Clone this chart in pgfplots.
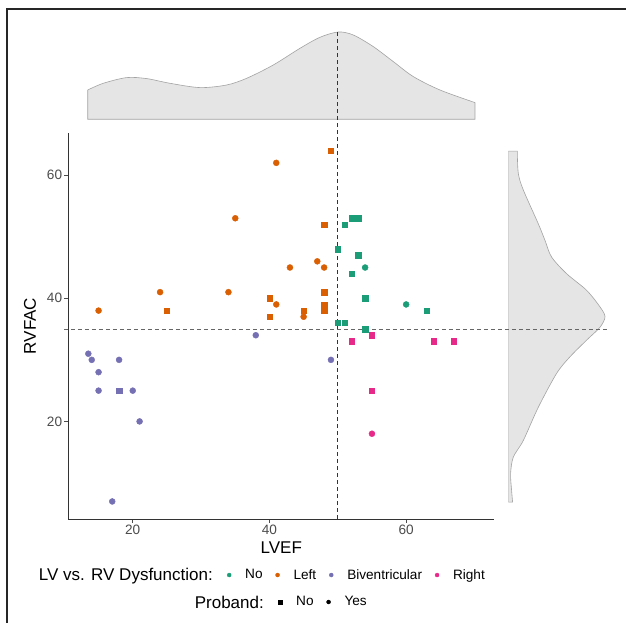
\documentclass[border=0pt]{standalone}
\usepackage{pgfplots}
\pgfplotsset{compat=1.18}
\usepackage{fontspec}
\setmainfont{Liberation Sans}
\definecolor{cNo}{HTML}{1B9E77}
\definecolor{cLeft}{HTML}{D95F02}
\definecolor{cBiv}{HTML}{7570B3}
\definecolor{cRight}{HTML}{E7298A}
\definecolor{densfill}{HTML}{E5E5E5}
\definecolor{densline}{HTML}{A3A3A3}
\newcommand{\basefont}{\fontsize{17bp}{20bp}\selectfont}
\newcommand{\smallfont}{\fontsize{13.6bp}{16bp}\selectfont}
\pgfplotsset{
  sq/.style={only marks, mark=square*, mark size=2.7bp, color=#1},
  ci/.style={only marks, mark=*, mark size=3bp, color=#1},
  legbox/.style={
    hide axis, scale only axis, at={(0bp,0bp)}, anchor=south west,
    width=626bp, height=623bp, xmin=0, xmax=1, ymin=0, ymax=1,
    legend image code/.code={\draw[##1, only marks] plot coordinates {(0bp,0bp)};},
    legend style={draw=none, fill=none, inner sep=0bp, anchor=west,
      font=\smallfont, nodes={inner sep=0bp},
      /tikz/every odd column/.append style={column sep=14bp},
      /tikz/every even column/.append style={column sep=13bp}},
  },
}
\begin{document}
\begin{tikzpicture}
\path[use as bounding box] (0bp,0bp) rectangle (626bp,623bp);
\draw[line width=2bp, black!85] (7bp,0bp) -- (7bp,614bp) -- (626bp,614bp);

% top marginal density of LVEF
\begin{axis}[
  hide axis, scale only axis,
  at={(68.3bp,503.7bp)}, anchor=south west,
  width=426bp, height=90bp,
  xmin=10.57, xmax=72.9, ymin=0, ymax=90,
]
\addplot[smooth, fill=densfill, draw=densline, line width=0.6bp] coordinates {
  (13.41,29.3) (15.69,36.0) (19.11,41.7) (22.04,40.7) (25.45,36.0)
  (29.84,31.7) (33.74,34.3) (36.67,41.0) (40.56,54.3) (44.47,71.0)
  (47.39,82.0) (50.07,87.3) (52.27,84.3) (55.19,72.7) (58.12,57.7)
  (61.05,42.7) (64.95,29.3) (70.07,16.7)
} -- (axis cs:70.07,0) -- (axis cs:13.41,0) -- cycle;
\end{axis}

% right marginal density of RVFAC
\begin{axis}[
  hide axis, scale only axis,
  at={(508.3bp,104bp)}, anchor=south west,
  width=100bp, height=386bp,
  xmin=0, xmax=100, ymin=4.15, ymax=66.85,
]
\addplot[smooth, fill=densfill, draw=densline, line width=0.6bp] coordinates {
  (9,63.9) (10,60.3) (15,57.6) (30,52.1) (36.7,49.4) (43.3,46.7)
  (58.3,44.0) (78.3,41.3) (91.7,38.6) (96.7,37.0) (91.7,35.3)
  (78.3,33.2) (61.7,30.5) (48.3,27.8) (30,22.3) (15,16.9) (5,14.2)
  (2.3,11.5) (3.3,8.8) (4.3,6.9)
} -- (axis cs:0,6.9) -- (axis cs:0,63.9) -- cycle;
\end{axis}

% main scatter
\begin{axis}[
  at={(68.3bp,104bp)}, anchor=south west,
  scale only axis, width=426bp, height=386bp,
  xmin=10.57, xmax=72.9, ymin=4.15, ymax=66.85,
  axis x line*=bottom, axis y line*=left,
  axis line style={black!80, line width=0.8bp},
  xtick={20,40,60}, ytick={20,40,60},
  tick align=outside, major tick length=4bp,
  tick style={black!70, line width=0.8bp},
  tick label style={font=\smallfont, text=black!70, inner sep=2bp},
  /pgf/number format/assume math mode=true,
  xlabel={LVEF}, ylabel={RVFAC},
  label style={font=\basefont},
  xlabel style={at={(axis description cs:0.5,-0.0751)}, anchor=center},
  ylabel style={at={(axis description cs:-0.0899,0.5)}, anchor=center},
  clip=false,
]
% No dysfunction
\addplot[sq=cNo] coordinates {
  (50,48) (51,52) (52,53) (53,53) (53,47) (52,44) (54,40) (63,38)
  (50,36) (51,36) (54,35)
};
\addplot[ci=cNo] coordinates {(54,45) (60,39)};
% Left
\addplot[ci=cLeft] coordinates {
  (41,62) (35,53) (15,38) (24,41) (34,41) (41,39) (43,45) (47,46)
  (48,45) (45,37)
};
\addplot[sq=cLeft] coordinates {
  (49,64) (25,38) (40,40) (40,37) (48,52) (48,41) (48,39) (48,38) (45,38)
};
% Biventricular
\addplot[ci=cBiv] coordinates {
  (13.5,31) (14,30) (15,28) (15,25) (18,30) (20,25) (21,20) (17,7)
  (38,34) (49,30)
};
\addplot[sq=cBiv] coordinates {(18,25)};
% Right
\addplot[sq=cRight] coordinates {(55,34) (52,33) (64,33) (67,33) (55,25)};
\addplot[ci=cRight] coordinates {(55,18)};

\draw[black!80, line width=0.8bp, dash pattern=on 4bp off 3bp]
  (axis cs:50,4.15) -- (axis cs:50,83.58);
\draw[black!60, line width=0.8bp, dash pattern=on 4bp off 3bp]
  (axis cs:9.94,35) -- (axis cs:89.7,35);
\end{axis}

% legends
\node[font=\basefont, anchor=base east, inner sep=0bp] at (213bp,42bp) {LV vs. RV Dysfunction:};
\node[font=\basefont, anchor=base east, inner sep=0bp] at (264bp,15bp) {Proband:};
\begin{axis}[legbox, legend columns=4,
  legend style={at={(axis description cs:0.3626,0.0770)}}]
\addlegendimage{mark=*, mark size=2bp, cNo}\addlegendentry{No}
\addlegendimage{mark=*, mark size=2bp, cLeft}\addlegendentry{Left}
\addlegendimage{mark=*, mark size=2bp, cBiv}\addlegendentry{Biventricular}
\addlegendimage{mark=*, mark size=2bp, cRight}\addlegendentry{Right}
\end{axis}
\begin{axis}[legbox, legend columns=2,
  legend style={at={(axis description cs:0.4441,0.0337)}}]
\addlegendimage{mark=square*, mark size=2bp, black}\addlegendentry{No}
\addlegendimage{mark=*, mark size=2bp, black}\addlegendentry{Yes}
\end{axis}
\end{tikzpicture}
\end{document}
